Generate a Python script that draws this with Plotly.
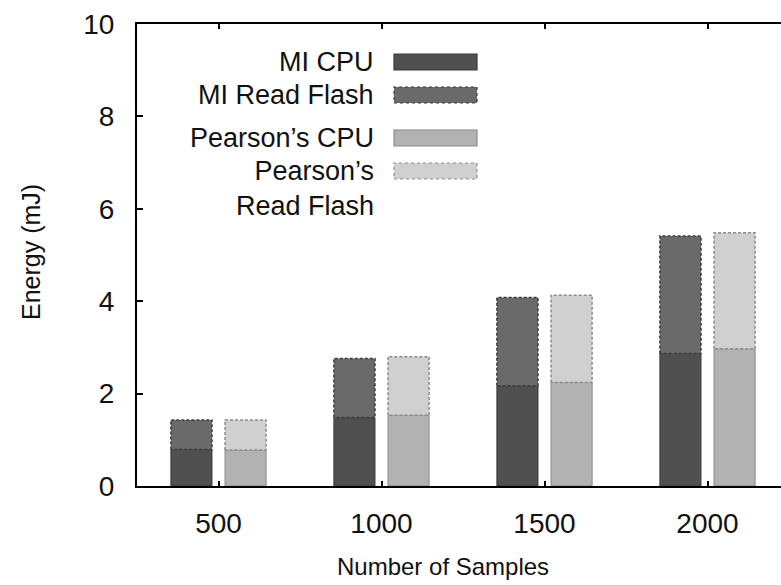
import plotly.graph_objects as go

categories = ["500", "1000", "1500", "2000"]
mi_cpu = [0.79, 1.48, 2.17, 2.87]
mi_total = [1.43, 2.76, 4.08, 5.41]
pe_cpu = [0.78, 1.53, 2.24, 2.97]
pe_total = [1.43, 2.80, 4.13, 5.48]
y_ticks = [0, 2, 4, 6, 8, 10]
legend_labels = ["MI CPU", "MI Read Flash", "Pearson’s CPU", "Pearson’s<br>Read Flash"]
x_title = "Number of Samples"
y_title = "Energy (mJ)"

mi_flash = [t - c for t, c in zip(mi_total, mi_cpu)]
pe_flash = [t - c for t, c in zip(pe_total, pe_cpu)]

C_MI_CPU = "#505050"
C_MI_FL = "#6a6a6a"
C_PE_CPU = "#b2b2b2"
C_PE_FL = "#d0d0d0"

W = 0.252
OFF = 0.166
xi = list(range(len(categories)))
x_mi = [i - OFF for i in xi]
x_pe = [i + OFF for i in xi]

fig = go.Figure()
fig.add_bar(x=x_mi, y=mi_cpu, width=W, name=legend_labels[0],
            marker=dict(color=C_MI_CPU, line=dict(color="#3a3a3a", width=1)))
fig.add_bar(x=x_mi, y=mi_flash, base=mi_cpu, width=W, name=legend_labels[1],
            marker=dict(color=C_MI_FL, line=dict(width=0)))
fig.add_bar(x=x_pe, y=pe_cpu, width=W, name=legend_labels[2],
            marker=dict(color=C_PE_CPU, line=dict(color="#8a8a8a", width=1)))
fig.add_bar(x=x_pe, y=pe_flash, base=pe_cpu, width=W, name=legend_labels[3],
            marker=dict(color=C_PE_FL, line=dict(width=0)))

# dashed outlines of the flash segments, built from the data
def outline(xc, lo, hi, color):
    xs, ys = [], []
    for x, a, b in zip(xc, lo, hi):
        x0, x1 = x - W / 2, x + W / 2
        xs += [x0, x0, x1, x1, x0, None]
        ys += [a, b, b, a, a, None]
    fig.add_scatter(x=xs, y=ys, mode="lines", hoverinfo="skip", showlegend=False,
                    line=dict(color=color, width=1.5, dash="3px,2px"))

outline(x_mi, mi_cpu, mi_total, "#3c3c3c")
outline(x_pe, pe_cpu, pe_total, "#8c8c8c")

FONT = "Liberation Sans, Arial, sans-serif"
L, R, T, B = 137, 0, 24, 99
PW, PH = 781 - L - R, 585 - T - B

def px(x):
    return (x - L) / PW

def py(y):
    return (585 - B - y) / PH

# manual legend (text right-aligned, swatch on the right)
rows = [62, 95, 138, 171]
fills = [C_MI_CPU, C_MI_FL, C_PE_CPU, C_PE_FL]
lines = [("#3a3a3a", "solid"), ("#3c3c3c", "dot"), ("#8a8a8a", "solid"), ("#8c8c8c", "dot")]
for lab, yc, fc, (lc, ld) in zip(legend_labels, rows, fills, lines):
    fig.add_shape(type="rect", xref="paper", yref="paper",
                  x0=px(394), x1=px(477), y0=py(yc + 8), y1=py(yc - 8),
                  fillcolor=fc, line=dict(color=lc, width=1.2, dash=ld))
    multi = "<br>" in lab
    fig.add_annotation(xref="paper", yref="paper", x=px(376), y=py(yc),
                       text=lab, showarrow=False, xanchor="right",
                       yanchor="top" if multi else "middle",
                       yshift=17 if multi else 0,
                       align="right", font=dict(size=27, color="#111", family=FONT))

# axis titles
fig.add_annotation(xref="paper", yref="paper", x=px(443), y=py(566),
                   text=x_title, showarrow=False, xanchor="center", yanchor="middle",
                   font=dict(size=24, color="#111", family=FONT))
fig.add_annotation(xref="paper", yref="paper", x=px(31), y=py(252),
                   text=y_title, showarrow=False, textangle=-90,
                   xanchor="center", yanchor="middle",
                   font=dict(size=25, color="#111", family=FONT))

fig.update_layout(
    width=781, height=585,
    margin=dict(l=L, r=R, t=T, b=B),
    plot_bgcolor="white", paper_bgcolor="white",
    barmode="overlay", showlegend=False,
    font=dict(family=FONT, size=24, color="#111"),
)
fig.update_xaxes(
    range=[-0.5, -0.5 + PW / 163.0],
    tickmode="array", tickvals=xi, ticktext=categories,
    ticks="inside", ticklen=5, tickwidth=2, tickcolor="black",
    showline=True, linecolor="black", linewidth=2, mirror="ticks",
    showgrid=False, zeroline=False,
    tickfont=dict(size=28), ticklabelstandoff=11,
)
fig.update_yaxes(
    range=[0, 10], tickmode="array", tickvals=y_ticks,
    ticks="inside", ticklen=6, tickwidth=1.5, tickcolor="black",
    showline=True, linecolor="black", linewidth=2, mirror=False,
    showgrid=False, zeroline=False,
    tickfont=dict(size=28), ticklabelstandoff=15,
)

fig.write_html("out.html")
